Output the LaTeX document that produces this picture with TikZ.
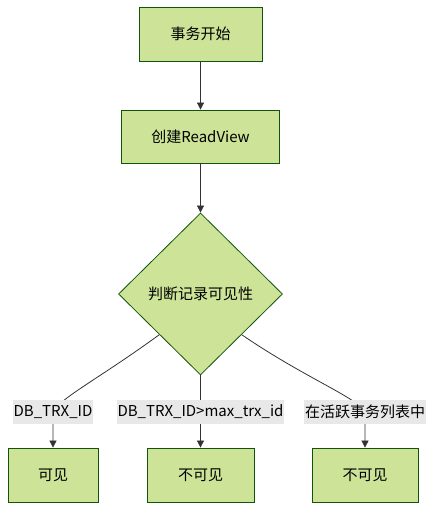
\documentclass[tikz,border=0pt]{standalone}
\usepackage{fontspec}
\setmainfont{Noto Sans CJK SC}
\usetikzlibrary{shapes.geometric,arrows.meta,positioning}

\definecolor{boxfill}{HTML}{CDE498}
\definecolor{boxline}{HTML}{13540C}
\definecolor{edgeline}{HTML}{333333}
\definecolor{lblfill}{HTML}{E8E8E8}

\begin{document}
\begin{tikzpicture}[x=1pt,y=1pt,>={Triangle[length=7pt,width=7pt]},node distance=102.5pt,
  font=\fontsize{15pt}{18pt}\selectfont,
  stepbox/.style={draw=boxline, fill=boxfill, line width=0.8pt, rectangle, minimum height=54pt},
  judgebox/.style={draw=boxline, fill=boxfill, line width=0.8pt, diamond, inner sep=0pt, minimum width=164pt, minimum height=162pt},
  edge/.style={draw=edgeline, line width=0.8pt},
  lbl/.style={fill=lblfill, inner xsep=1pt, inner ysep=0pt, minimum height=24pt}]
  \useasboundingbox (0,0) rectangle (444,518);

  \node[stepbox, minimum width=123pt] at (200.5,484) (start) {事务开始};
  \node[stepbox, below of=start, minimum width=158pt, minimum height=53pt] (readview) {创建ReadView};
  \node[judgebox, below of=readview, node distance=157.5pt] (judge) {判断记录可见性};

  \node[stepbox, minimum width=90pt] at (53,43) (vis) {可见};
  \node[stepbox, minimum width=107pt] at (200.5,43) (invis1) {不可见};
  \node[stepbox, minimum width=106pt] at (365,43) (invis2) {不可见};

  \coordinate (c1) at (53,106);
  \coordinate (c2) at (200.5,106);
  \coordinate (c3) at (365,106);

  \draw[edge,->] (start) -- (readview);
  \draw[edge,->] (readview) -- (judge);
  \draw[edge,->] (judge.south west) .. controls (100,140) and (60,120) .. (c1) -- (vis);
  \draw[edge,->] (judge) -- (c2) -- (invis1);
  \draw[edge,->] (judge.south east) .. controls (305,140) and (358,120) .. (c3) -- (invis2);

  \node[lbl] at (c1) (l1) {DB\_TRX\_ID};
  \node[lbl] at (c2) (l2) {DB\_TRX\_ID>max\_trx\_id};
  \node[lbl] at (c3) (l3) {在活跃事务列表中};
\end{tikzpicture}
\end{document}
